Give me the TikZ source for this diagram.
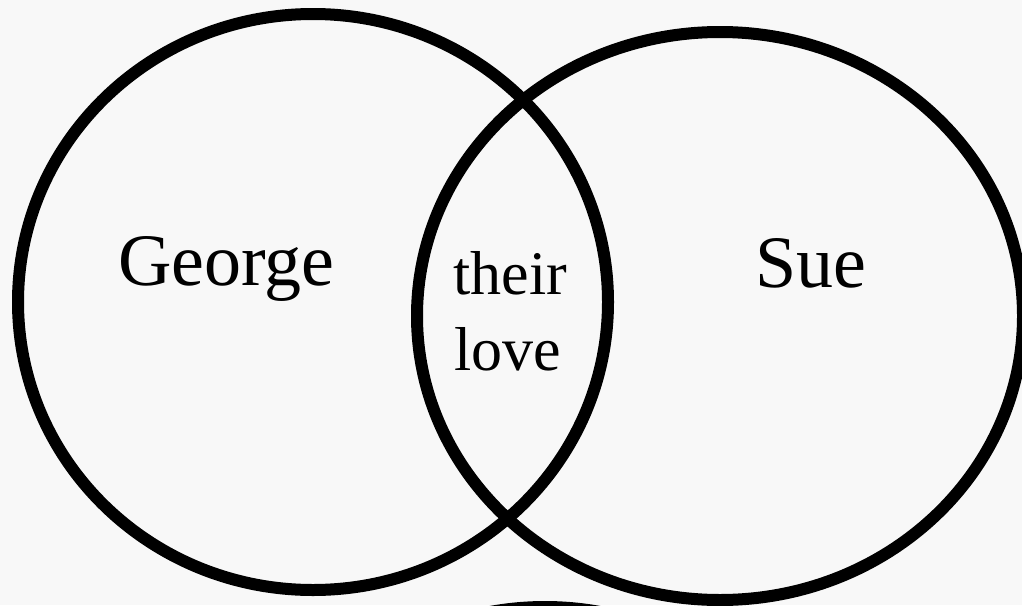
\documentclass[tikz,border=0pt]{standalone}
\usepackage{fontspec}
\setmainfont{Liberation Serif}
\definecolor{bgcol}{HTML}{F8F8F8}
\begin{document}
\begin{tikzpicture}[x=1pt,y=-1pt,
  ring/.style={draw=black,line width=12pt},
  biglabel/.style={anchor=base,inner sep=0pt,font=\fontsize{74}{80}\selectfont},
  smalllabel/.style={anchor=base,inner sep=0pt,font=\fontsize{62}{70}\selectfont}]
  \fill[bgcol] (0,0) rectangle (1022,605);
  \useasboundingbox (0,0) rectangle (1022,605);
  \begin{scope}
    \clip (0,0) rectangle (1022,605);
    \draw[ring] (313,302) ellipse [x radius=295, y radius=288];
    \draw[ring] (720,316) ellipse [x radius=303, y radius=284];
    \draw[ring] (545,895) ellipse [x radius=295, y radius=288];
  \end{scope}
  \node[biglabel] (george) at (226.5,285) {George};
  \node[biglabel] (sue) at (811,287) {Sue};
  \node[smalllabel] (their) at (510.5,294) {their};
  \node[smalllabel] (love) at (508,370) {love};
\end{tikzpicture}
\end{document}
